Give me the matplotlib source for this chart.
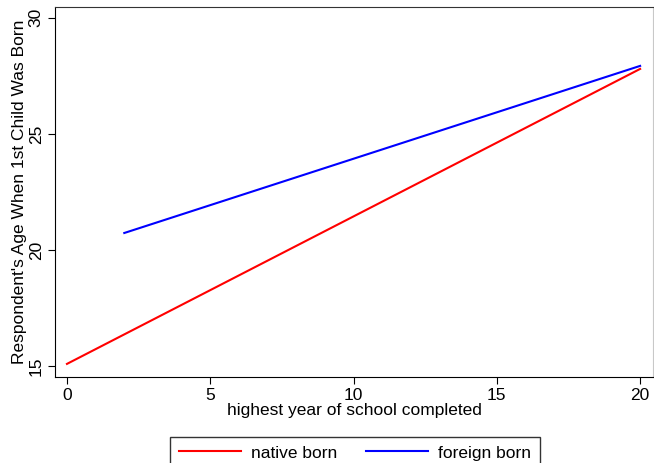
import matplotlib.pyplot as plt

# fitted lines: education (years) vs age at first child
native_x = [0, 20]
native_y = [15.09, 27.80]
foreign_x = [2, 20]
foreign_y = [20.73, 27.93]

x_ticks = [0, 5, 10, 15, 20]
y_ticks = [15, 20, 25, 30]

plt.rcParams['font.family'] = ['Liberation Sans', 'DejaVu Sans']
FS = 12.5

fig = plt.figure(figsize=(6.54, 4.63), dpi=100)
ax = fig.add_axes([0.084, 0.186, 0.9145, 0.799])

ax.plot(native_x, native_y, color='red', lw=1.5, label='native born')
ax.plot(foreign_x, foreign_y, color='blue', lw=1.5, label='foreign born')

ax.set_xlim(-0.42, 20.45)
ax.set_ylim(14.53, 30.47)
ax.set_xticks(x_ticks)
ax.set_yticks(y_ticks)
ax.tick_params(labelsize=FS, length=5, width=0.8, color='black', pad=3)
for lab in ax.get_yticklabels():
    lab.set_rotation(90)
    lab.set_va('center')

ax.spines['right'].set_color('#c8c8c8')
ax.spines['top'].set_color('#333333')
for s in ['left', 'bottom']:
    ax.spines[s].set_color('black')

ax.set_xlabel('highest year of school completed', fontsize=FS, labelpad=0)
ax.set_ylabel("Respondent's Age When 1st Child Was Born", fontsize=FS, labelpad=1)

fig.legend(loc='upper center', bbox_to_anchor=(355 / 654, 1 - 428 / 463), ncol=2,
           fontsize=FS, frameon=True, fancybox=False, edgecolor='black',
           handlelength=3.6, handletextpad=0.6, columnspacing=1.6, borderpad=0.5)

fig.savefig('out.png', dpi=100)
